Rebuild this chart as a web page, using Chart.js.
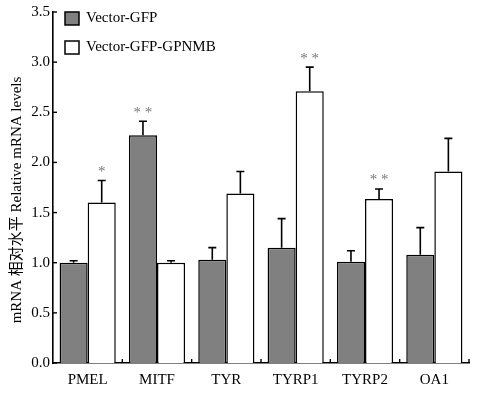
<!DOCTYPE html>
<html>
<head>
<meta charset="utf-8">
<script src="https://cdn.jsdelivr.net/npm/chart.js@4/dist/chart.umd.min.js"></script>
<style>
  html, body { margin: 0; padding: 0; background: #fff; }
  #wrap { width: 479px; height: 393px; }
</style>
</head>
<body>
<div id="wrap"><canvas id="grafico"></canvas></div>
<script>
const categorias = ['PMEL', 'MITF', 'TYR', 'TYRP1', 'TYRP2', 'OA1']
const gfp = [1.00, 2.27, 1.03, 1.15, 1.01, 1.08]
const gfpErro = [0.02, 0.14, 0.12, 0.29, 0.11, 0.27]
const gfpMarca = ['', '**', '', '', '', '']
const gpnmb = [1.60, 1.00, 1.69, 2.71, 1.635, 1.91]
const gpnmbErro = [0.22, 0.02, 0.22, 0.24, 0.10, 0.33]
const gpnmbMarca = ['*', '', '', '**', '**', '']
const ticksY = [0, 0.5, 1.0, 1.5, 2.0, 2.5, 3.0, 3.5]
const tituloY = 'mRNA 相对水平 Relative mRNA levels'

const serif = '"Liberation Serif", "Times New Roman", "Noto Sans CJK SC", serif'
const erros = [gfpErro, gpnmbErro]
const marcas = [gfpMarca, gpnmbMarca]

// error bars (upper only), significance stars, inner ticks, legend, y title
const extras = {
  id: 'extras',
  afterDatasetsDraw(chart) {
    const c = chart.ctx
    const y = chart.scales.y
    const area = chart.chartArea
    c.save()
    c.strokeStyle = '#000'
    c.lineWidth = 1.6
    chart.data.datasets.forEach((ds, i) => {
      chart.getDatasetMeta(i).data.forEach((bar, j) => {
        const topo = y.getPixelForValue(ds.data[j] + erros[i][j])
        c.beginPath()
        c.moveTo(bar.x, bar.y)
        c.lineTo(bar.x, topo)
        c.moveTo(bar.x - 4, topo)
        c.lineTo(bar.x + 4, topo)
        c.stroke()
        if (marcas[i][j]) {
          c.fillStyle = '#777'
          c.font = '15px ' + serif
          c.textAlign = 'center'
          c.textBaseline = 'bottom'
          c.fillText(marcas[i][j].split('').join(' '), bar.x, topo - 1)
        }
      })
    })
    // y ticks pointing inward
    c.lineWidth = 1.4
    ticksY.forEach(v => {
      const py = y.getPixelForValue(v)
      c.beginPath()
      c.moveTo(area.left, py)
      c.lineTo(area.left + 4, py)
      c.stroke()
    })
    // x ticks between categories, pointing up
    for (let k = 1; k <= categorias.length; k++) {
      const px = area.left + (area.right - area.left) * k / categorias.length
      c.beginPath()
      c.moveTo(px, area.bottom)
      c.lineTo(px, area.bottom - 4)
      c.stroke()
    }
    // legend
    c.font = '15px ' + serif
    c.textAlign = 'left'
    c.textBaseline = 'middle'
    chart.data.datasets.forEach((ds, i) => {
      const ly = 18.5 + i * 29
      c.fillStyle = ds.backgroundColor
      c.fillRect(65, ly - 6.5, 14, 13)
      c.lineWidth = 1.5
      c.strokeRect(65, ly - 6.5, 14, 13)
      c.fillStyle = '#000'
      c.fillText(ds.label, 86, ly)
    })
    // y axis title
    c.translate(17, 200)
    c.rotate(-Math.PI / 2)
    c.font = '15px ' + serif
    c.textAlign = 'center'
    c.fillStyle = '#000'
    c.fillText(tituloY, 0, 0)
    c.restore()
  }
}

new Chart(document.getElementById('grafico'), {
  type: 'bar',
  data: {
    labels: categorias,
    datasets: [{
      label: 'Vector-GFP',
      data: gfp,
      backgroundColor: '#808080',
      borderColor: '#000',
      borderWidth: 1.5,
      barPercentage: 1,
      categoryPercentage: 0.81
    }, {
      label: 'Vector-GFP-GPNMB',
      data: gpnmb,
      backgroundColor: '#ffffff',
      borderColor: '#000',
      borderWidth: 1.5,
      barPercentage: 1,
      categoryPercentage: 0.81
    }]
  },
  options: {
    responsive: true,
    maintainAspectRatio: false,
    animation: false,
    layout: { padding: { top: 12, right: 10, left: 0, bottom: 0 } },
    plugins: {
      legend: { display: false },
      tooltip: { enabled: false }
    },
    scales: {
      x: {
        grid: { display: false, drawTicks: false },
        border: { display: true, color: '#000', width: 1.6 },
        ticks: { color: '#000', font: { family: serif, size: 15 }, padding: 8, maxRotation: 0 },
        afterFit: s => { s.height = 30 }
      },
      y: {
        min: 0,
        max: 3.5,
        grid: { display: false, drawTicks: false },
        border: { display: true, color: '#000', width: 1.6 },
        afterBuildTicks: s => { s.ticks = ticksY.map(v => ({ value: v })) },
        ticks: {
          color: '#000',
          font: { family: serif, size: 15 },
          padding: 3,
          callback: v => v.toFixed(1)
        },
        afterFit: s => { s.width = 53 }
      }
    }
  },
  plugins: [extras]
})
</script>
</body>
</html>
